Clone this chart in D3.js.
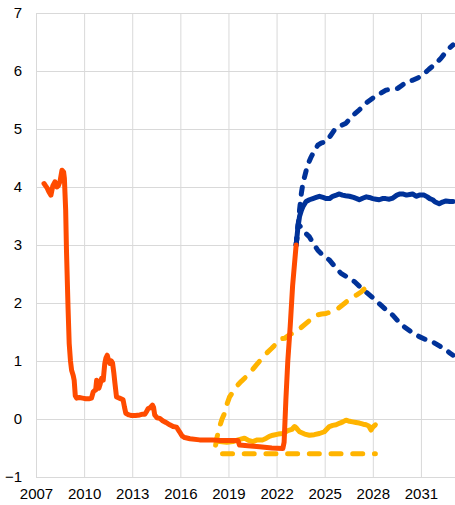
<!DOCTYPE html>
<html>
<head>
<meta charset="utf-8">
<script src="https://cdn.jsdelivr.net/npm/d3@7"></script>
<style>
  html, body { margin: 0; padding: 0; background: #fff; }
  svg { display: block; font-family: "Liberation Sans", Arial, sans-serif; }
</style>
</head>
<body>
<svg id="chart" width="455" height="505"></svg>
<script>
// Tick labels
const xTicks = [2007, 2010, 2013, 2016, 2019, 2022, 2025, 2028, 2031];
const yTicks = [-1, 0, 1, 2, 3, 4, 5, 6, 7];

// Observed rate (%), decimal years
const rateYears = [2007.5, 2007.6, 2007.7, 2007.8, 2007.93, 2008.05, 2008.18, 2008.3, 2008.39, 2008.5,
  2008.62, 2008.72, 2008.77, 2008.85, 2008.9, 2009.0, 2009.07, 2009.15, 2009.22, 2009.32,
  2009.38, 2009.45, 2009.53, 2009.7, 2009.9, 2010.1, 2010.3, 2010.46, 2010.57, 2010.65,
  2010.72, 2010.78, 2010.85, 2010.92, 2011.0, 2011.09, 2011.19, 2011.29, 2011.36, 2011.44,
  2011.52, 2011.6, 2011.7, 2011.77, 2011.85, 2011.92, 2012.02, 2012.2, 2012.43, 2012.52,
  2012.6, 2012.8, 2012.95, 2013.2, 2013.47, 2013.6, 2013.78, 2013.9, 2013.99, 2014.1,
  2014.26, 2014.33, 2014.4, 2014.55, 2014.72, 2014.9, 2015.1, 2015.34, 2015.55, 2015.76,
  2015.95, 2016.1, 2016.27, 2016.6, 2017.2, 2018.0, 2018.5, 2019.0, 2019.59, 2019.69,
  2020.2, 2020.94, 2021.7, 2022.39, 2022.47, 2022.58, 2022.7, 2022.85, 2023.0, 2023.22];
const rateValues = [4.06, 4.02, 3.98, 3.92, 3.86, 4.02, 4.09, 4.0, 4.02, 4.1,
  4.29, 4.26, 4.15, 3.6, 2.91, 1.9, 1.30, 1.0, 0.84, 0.75,
  0.67, 0.40, 0.36, 0.37, 0.36, 0.35, 0.35, 0.36, 0.47, 0.49,
  0.50, 0.67, 0.62, 0.53, 0.60, 0.70, 0.67, 0.96, 1.05, 1.10,
  1.02, 0.96, 1.00, 0.97, 0.80, 0.62, 0.38, 0.36, 0.33, 0.20,
  0.10, 0.07, 0.06, 0.06, 0.07, 0.08, 0.08, 0.13, 0.18, 0.19,
  0.24, 0.20, 0.07, 0.02, 0.01, -0.03, -0.06, -0.10, -0.13, -0.14,
  -0.22, -0.29, -0.32, -0.34, -0.36, -0.36, -0.37, -0.37, -0.37, -0.45,
  -0.46, -0.48, -0.50, -0.51, -0.40, 0.33, 1.0, 1.6, 2.3, 3.0];

// Central projection
const baseYears = [2023.22, 2023.33, 2023.43, 2023.55, 2023.64, 2023.84, 2024.05, 2024.26, 2024.47, 2024.67,
  2024.9, 2025.1, 2025.3, 2025.5, 2025.72, 2025.92, 2026.1, 2026.3, 2026.54, 2026.8,
  2027.0, 2027.16, 2027.4, 2027.6, 2027.78, 2028.0, 2028.2, 2028.4, 2028.6, 2028.8,
  2029.03, 2029.25, 2029.5, 2029.7, 2029.86, 2030.1, 2030.3, 2030.48, 2030.7, 2030.9,
  2031.2, 2031.4, 2031.55, 2031.73, 2031.9, 2032.14, 2032.35, 2032.56, 2032.8, 2033.0];
const baseValues = [3.00, 3.30, 3.49, 3.60, 3.66, 3.75, 3.78, 3.80, 3.82, 3.84,
  3.82, 3.80, 3.80, 3.84, 3.86, 3.88, 3.86, 3.85, 3.84, 3.82,
  3.80, 3.78, 3.81, 3.83, 3.82, 3.80, 3.79, 3.78, 3.80, 3.80,
  3.79, 3.81, 3.86, 3.88, 3.88, 3.86, 3.87, 3.88, 3.84, 3.86,
  3.86, 3.83, 3.80, 3.78, 3.74, 3.71, 3.74, 3.76, 3.75, 3.75];

// Upper projection
const upperYears = [2023.22, 2023.33, 2023.43, 2023.55, 2023.64, 2023.85, 2024.0, 2024.16, 2024.35, 2024.57,
  2024.8, 2025.09, 2025.35, 2025.6, 2025.95, 2026.33, 2026.7, 2027.16, 2027.55, 2027.99,
  2028.4, 2028.82, 2029.2, 2029.55, 2029.85, 2030.17, 2030.48, 2030.8, 2031.1, 2031.5,
  2031.93, 2032.25, 2032.56, 2032.8, 2033.0];
const upperValues = [3.00, 3.30, 3.60, 3.90, 4.06, 4.29, 4.42, 4.52, 4.62, 4.72,
  4.76, 4.78, 4.88, 4.98, 5.05, 5.10, 5.22, 5.33, 5.44, 5.53,
  5.60, 5.67, 5.69, 5.70, 5.76, 5.82, 5.84, 5.88, 5.93, 6.03,
  6.13, 6.22, 6.33, 6.40, 6.45];

// Lower projection
const lowerYears = [2023.22, 2023.35, 2023.53, 2023.75, 2024.05, 2024.3, 2024.57, 2024.9, 2025.3, 2025.65,
  2026.02, 2026.45, 2026.85, 2027.2, 2027.58, 2028.0, 2028.4, 2028.8, 2029.24, 2029.6,
  2029.96, 2030.4, 2030.9, 2031.3, 2031.73, 2032.15, 2032.56, 2032.8, 2033.0];
const lowerValues = [3.00, 3.36, 3.30, 3.22, 3.14, 3.02, 2.91, 2.82, 2.74, 2.62,
  2.51, 2.44, 2.37, 2.28, 2.19, 2.09, 1.99, 1.89, 1.79, 1.68,
  1.59, 1.50, 1.42, 1.37, 1.33, 1.26, 1.19, 1.14, 1.10];

// Earlier forward curve
const fwdYears = [2018.2, 2018.3, 2018.45, 2018.6, 2018.76, 2018.9, 2019.07, 2019.3, 2019.49, 2019.8,
  2020.11, 2020.4, 2020.73, 2021.05, 2021.36, 2021.7, 2021.98, 2022.2, 2022.5, 2022.85,
  2023.22, 2023.5, 2023.84, 2024.15, 2024.47, 2024.8, 2025.09, 2025.4, 2025.71, 2026.13,
  2026.4, 2026.65, 2027.0, 2027.27, 2027.5, 2027.68, 2027.79, 2027.88];
const fwdValues = [-0.45, -0.30, -0.13, 0.00, 0.10, 0.25, 0.38, 0.48, 0.56, 0.65,
  0.73, 0.82, 0.93, 1.03, 1.13, 1.22, 1.30, 1.38, 1.39, 1.46,
  1.51, 1.57, 1.65, 1.72, 1.79, 1.81, 1.82, 1.85, 1.88, 1.97,
  2.03, 2.08, 2.14, 2.19, 2.25, 2.31, 2.30, 2.24];

// Later realised path
const pathYears = [2018.2, 2018.45, 2018.9, 2019.28, 2019.6, 2020.0, 2020.25, 2020.52, 2020.8, 2021.14,
  2021.36, 2021.55, 2021.77, 2022.1, 2022.39, 2022.7, 2022.95, 2023.12, 2023.25, 2023.43,
  2023.75, 2024.05, 2024.35, 2024.67, 2024.98, 2025.29, 2025.5, 2025.71, 2025.95, 2026.13,
  2026.33, 2026.55, 2026.74, 2026.95, 2027.16, 2027.4, 2027.58, 2027.75, 2027.89, 2028.0, 2028.16];
const pathValues = [-0.36, -0.39, -0.40, -0.39, -0.36, -0.33, -0.37, -0.39, -0.36, -0.36,
  -0.33, -0.30, -0.28, -0.26, -0.25, -0.20, -0.18, -0.13, -0.16, -0.22,
  -0.26, -0.28, -0.27, -0.25, -0.22, -0.13, -0.11, -0.10, -0.07, -0.05,
  -0.02, -0.04, -0.05, -0.06, -0.07, -0.09, -0.10, -0.12, -0.19, -0.14, -0.10];

// Floor level
const floorYears = [2018.63, 2028.16];
const floorValues = [-0.6, -0.6];

const svg = d3.select("#chart");
const plotLeft = 36, plotTop = 13, plotBottom = 477, plotRight = 455;

const x = d3.scaleLinear().domain([2007, 2033]).range([plotLeft, 453]);
const y = d3.scaleLinear().domain([-1, 7]).range([plotBottom, plotTop]);

const gridColor = "#d9d9d9";

// Horizontal grid + y labels
const yAxis = svg.append("g")
  .attr("transform", `translate(${plotLeft},0)`)
  .call(d3.axisLeft(y).tickValues(yTicks).tickSize(-(plotRight - plotLeft)).tickPadding(14).tickFormat(d3.format("d")));
yAxis.select(".domain").remove();
yAxis.selectAll("line").attr("stroke", gridColor);
yAxis.selectAll("text").attr("font-size", 15).attr("fill", "#000").attr("font-family", "'Liberation Sans', Arial, sans-serif");

// Vertical grid + x labels
const xAxis = svg.append("g")
  .attr("transform", `translate(0,${plotBottom})`)
  .call(d3.axisBottom(x).tickValues(xTicks).tickSize(-(plotBottom - plotTop)).tickPadding(11).tickFormat(d3.format("d")));
xAxis.select(".domain").remove();
xAxis.selectAll("line").attr("stroke", gridColor);
xAxis.selectAll("text").attr("font-size", 15).attr("fill", "#000").attr("font-family", "'Liberation Sans', Arial, sans-serif");

const line = d3.line().x(d => x(d[0])).y(d => y(d[1]));
const zip = (a, b) => a.map((v, i) => [v, b[i]]);

const BLUE = "#003299", YELLOW = "#FFB400", ORANGE = "#FF4B00";

function draw(years, values, color, dash) {
  svg.append("path")
    .datum(zip(years, values))
    .attr("d", line)
    .attr("fill", "none")
    .attr("stroke", color)
    .attr("stroke-width", 5)
    .attr("stroke-linecap", "round")
    .attr("stroke-linejoin", "round")
    .attr("stroke-dasharray", dash || null);
}

draw(upperYears, upperValues, BLUE, "7,10");
draw(lowerYears, lowerValues, BLUE, "7,10");
draw(baseYears, baseValues, BLUE);
draw(floorYears, floorValues, YELLOW, "10,11.7");
draw(fwdYears, fwdValues, YELLOW, "10,11.7");
draw(pathYears, pathValues, YELLOW);
draw(rateYears, rateValues, ORANGE);
</script>
</body>
</html>
